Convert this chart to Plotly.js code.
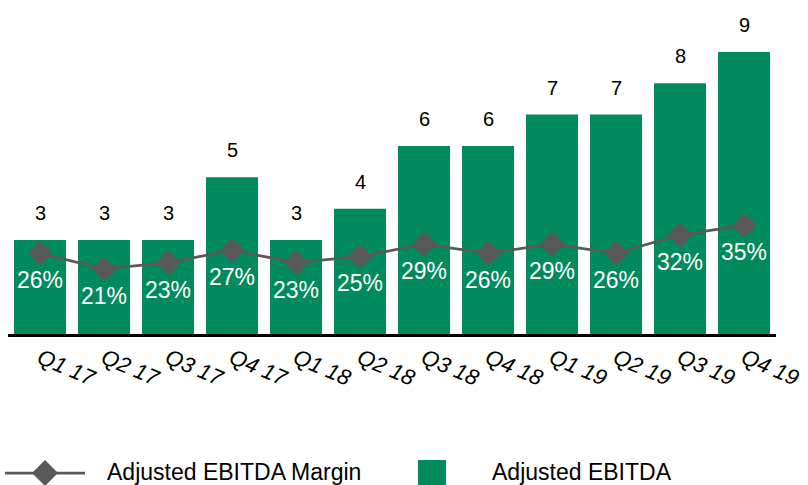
<!DOCTYPE html>
<html>
<head>
<meta charset="utf-8">
<script src="https://cdn.plot.ly/plotly-3.0.1.min.js"></script>
<style>html,body{margin:0;padding:0;background:#fff;}#chart{width:808px;height:485px;}</style>
</head>
<body>
<div id="chart"></div>
<script>
var quarters = ["Q1 17","Q2 17","Q3 17","Q4 17","Q1 18","Q2 18","Q3 18","Q4 18","Q1 19","Q2 19","Q3 19","Q4 19"];
var ebitda = [3,3,3,5,3,4,6,6,7,7,8,9];
var margin = [0.26,0.21,0.23,0.27,0.23,0.25,0.29,0.26,0.29,0.26,0.32,0.35];
var barLabels = ["3","3","3","5","3","4","6","6","7","7","8","9"];
var marginLabels = ["26%","21%","23%","27%","23%","25%","29%","26%","29%","26%","32%","35%"];

var FONT = 'Arial, "Liberation Sans", sans-serif';
var GREEN = '#008A5E';
var GREY = '#595959';

var W = 808, H = 485, ML = 8, MR = 32, MT = 14, MB = 151;
var PW = W - ML - MR, PH = H - MT - MB;
function px(x){ return (x - ML) / PW; }
function py(y){ return (H - MB - y) / PH; }

var traces = [
  {type:'bar', x: quarters, y: ebitda, marker:{color: GREEN}, name:'Adjusted EBITDA', hoverinfo:'none', showlegend:false},
  {type:'scatter', mode:'lines+markers', x: quarters, y: margin, yaxis:'y2', name:'Adjusted EBITDA Margin',
   line:{color: GREY, width: 2.75}, marker:{symbol:'diamond', size:19, color: GREY}, hoverinfo:'none', showlegend:false}
];

var annotations = [];
for (var i = 0; i < quarters.length; i++) {
  annotations.push({x: quarters[i], y: ebitda[i], xref:'x', yref:'y', text: barLabels[i], showarrow:false,
    yanchor:'middle', xanchor:'center', yshift: 27, font:{family: FONT, size: 20, color:'#000'}});
  annotations.push({x: quarters[i], y: margin[i], xref:'x', yref:'y2', text: marginLabels[i], showarrow:false,
    yanchor:'middle', xanchor:'center', yshift: -27, font:{family: FONT, size: 23, color:'#fff'}});
}
// legend texts
annotations.push({x: px(105), y: py(472), xref:'paper', yref:'paper', text:'Adjusted EBITDA Margin', showarrow:false,
  xanchor:'left', yanchor:'middle', font:{family: FONT, size: 23, color:'#000'}});
annotations.push({x: px(490), y: py(472), xref:'paper', yref:'paper', text:'Adjusted EBITDA', showarrow:false,
  xanchor:'left', yanchor:'middle', font:{family: FONT, size: 23, color:'#000'}});

var shapes = [
  {type:'line', xref:'paper', yref:'paper', x0: px(5), x1: px(85), y0: py(473), y1: py(473), line:{color: GREY, width: 2.75}},
  {type:'path', xref:'paper', yref:'paper',
   path: 'M '+px(32)+' '+py(473)+' L '+px(45)+' '+py(460)+' L '+px(58)+' '+py(473)+' L '+px(45)+' '+py(486)+' Z',
   fillcolor: GREY, line:{width:0}},
  {type:'rect', xref:'paper', yref:'paper', x0: px(418), x1: px(446), y0: py(460), y1: py(490), fillcolor: GREEN, line:{width:0}}
];

var layout = {
  width: W, height: H,
  margin: {l: ML, r: MR, t: MT, b: MB},
  paper_bgcolor:'#fff', plot_bgcolor:'#fff',
  showlegend:false,
  bargap: 0.1875,
  xaxis: {type:'category', range:[-0.5, 11.5], showline:true, linecolor:'#000', linewidth:3, showgrid:false, zeroline:false,
    ticks:'', tickangle: 23, tickfont:{family: FONT, size: 22, color:'#000', style:'italic'}, automargin:false},
  yaxis: {range:[0, 10.21], visible:false, fixedrange:true},
  yaxis2: {range:[0, 1.032], overlaying:'y', side:'right', visible:false},
  annotations: annotations,
  shapes: shapes
};

Plotly.newPlot('chart', traces, layout, {displayModeBar:false, staticPlot:true});
</script>
</body>
</html>
